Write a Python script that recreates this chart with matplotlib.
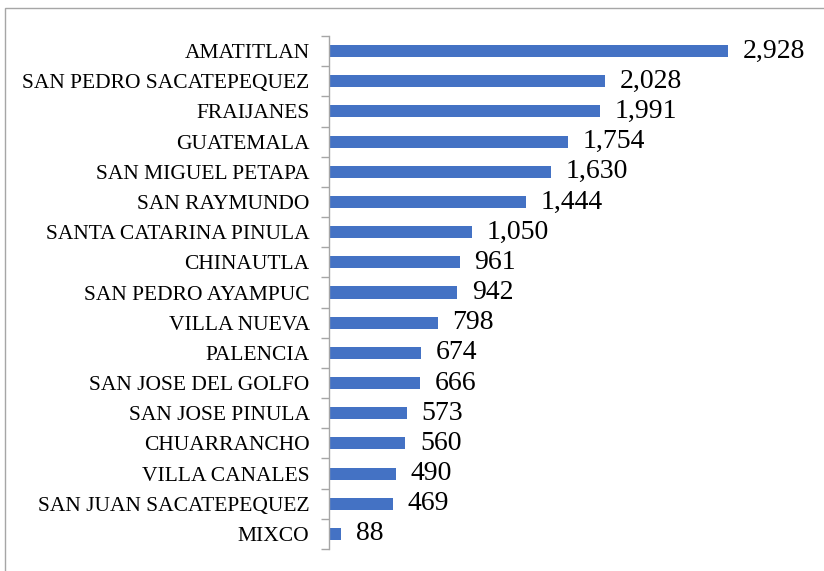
import matplotlib
matplotlib.use("Agg")
import matplotlib.pyplot as plt
from matplotlib.patches import Rectangle

categories = ["AMATITLAN", "SAN PEDRO SACATEPEQUEZ", "FRAIJANES", "GUATEMALA",
              "SAN MIGUEL PETAPA", "SAN RAYMUNDO", "SANTA CATARINA PINULA",
              "CHINAUTLA", "SAN PEDRO AYAMPUC", "VILLA NUEVA", "PALENCIA",
              "SAN JOSE DEL GOLFO", "SAN JOSE PINULA", "CHUARRANCHO",
              "VILLA CANALES", "SAN JUAN SACATEPEQUEZ", "MIXCO"]
values = [2928, 2028, 1991, 1754, 1630, 1444, 1050, 961, 942, 798, 674,
          666, 573, 560, 490, 469, 88]

W, H = 824, 571
fig = plt.figure(figsize=(W / 100, H / 100), dpi=100)
plt.rcParams['font.family'] = ['Liberation Serif', 'DejaVu Serif']

# outer frame
fig.patches.append(Rectangle((5 / W, -0.1), 1.2, (H - 8) / H + 0.1,
                             transform=fig.transFigure, fill=False,
                             edgecolor='#a6a6a6', linewidth=1.0))

ax_left, ax_right = 329, 824
ax_top, ax_bottom = 36, 549
ax = fig.add_axes([ax_left / W, 1 - ax_bottom / H,
                   (ax_right - ax_left) / W, (ax_bottom - ax_top) / H])

n = len(categories)
pos = list(range(n))
ax.barh(pos, values, height=0.4, color='#4472C4', zorder=2)
ax.set_ylim(n - 0.5, -0.5)
ax.set_xlim(0, (ax_right - ax_left) / (399 / 2928))

ax.set_yticks(pos)
ax.set_yticklabels(categories, fontsize=15.5, color='#000000')
ax.set_yticks([i - 0.5 for i in range(n + 1)], minor=True)
ax.tick_params(axis='y', which='major', length=0, pad=14)
ax.tick_params(axis='y', which='minor', length=6, color='#a6a6a6', width=1)
ax.set_xticks([])

for s in ['top', 'right', 'bottom']:
    ax.spines[s].set_visible(False)
ax.spines['left'].set_color('#a6a6a6')
ax.spines['left'].set_linewidth(1)

for p, v in zip(pos, values):
    ax.annotate(f"{v:,}", xy=(v, p), xytext=(10.5, 0), textcoords='offset points',
                ha='left', va='center', fontsize=20, color='#000000')

fig.savefig("out.png", dpi=100)
